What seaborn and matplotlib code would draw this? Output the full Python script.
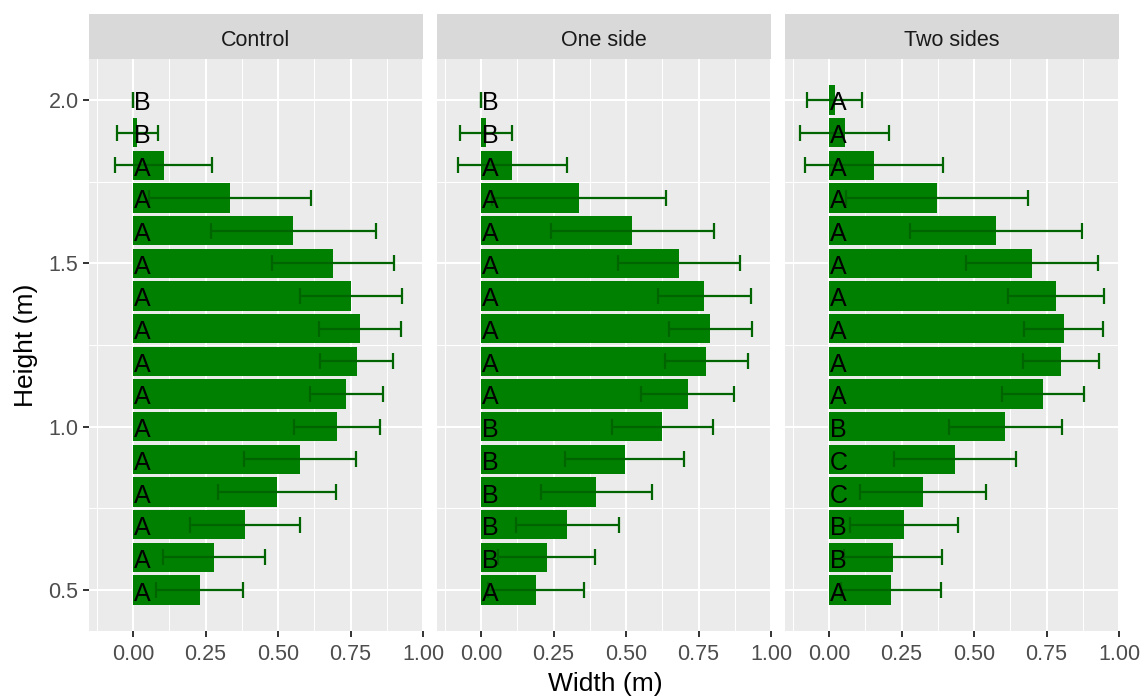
import numpy as np
import pandas as pd
import matplotlib
matplotlib.use("Agg")
import matplotlib.pyplot as plt
from matplotlib.ticker import MultipleLocator, FixedLocator
import seaborn as sns

# ---------------- data ----------------
heights = [0.5, 0.6, 0.7, 0.8, 0.9, 1.0, 1.1, 1.2, 1.3, 1.4, 1.5, 1.6, 1.7, 1.8, 1.9, 2.0]
treatments = ["Control", "One side", "Two sides"]

control_width = [0.230, 0.280, 0.386, 0.497, 0.576, 0.703, 0.735, 0.772,
                 0.783, 0.752, 0.690, 0.553, 0.335, 0.105, 0.015, 0.0]
control_err = [0.150, 0.176, 0.190, 0.203, 0.193, 0.147, 0.126, 0.126,
               0.140, 0.176, 0.210, 0.285, 0.280, 0.168, 0.070, 0.0]
control_letters = ["A", "A", "A", "A", "A", "A", "A", "A",
                   "A", "A", "A", "A", "A", "A", "B", "B"]

oneside_width = [0.190, 0.226, 0.298, 0.398, 0.495, 0.625, 0.713, 0.777,
                 0.790, 0.770, 0.683, 0.522, 0.337, 0.108, 0.017, 0.0]
oneside_err = [0.165, 0.168, 0.177, 0.192, 0.205, 0.175, 0.160, 0.144,
               0.143, 0.160, 0.210, 0.280, 0.300, 0.187, 0.090, 0.0]
oneside_letters = ["A", "B", "B", "B", "B", "B", "A", "A",
                   "A", "A", "A", "A", "A", "A", "B", "B"]

twosides_width = [0.214, 0.221, 0.259, 0.324, 0.434, 0.607, 0.738, 0.800,
                  0.810, 0.783, 0.700, 0.576, 0.372, 0.155, 0.054, 0.019]
twosides_err = [0.172, 0.170, 0.187, 0.217, 0.210, 0.195, 0.141, 0.130,
                0.136, 0.165, 0.228, 0.298, 0.314, 0.238, 0.153, 0.094]
twosides_letters = ["A", "B", "B", "C", "C", "B", "A", "A",
                    "A", "A", "A", "A", "A", "A", "A", "A"]

x_ticks = [0.0, 0.25, 0.5, 0.75, 1.0]
x_ticklabels = ["0.00", "0.25", "0.50", "0.75", "1.00"]
y_ticks = [0.5, 1.0, 1.5, 2.0]
y_ticklabels = ["0.5", "1.0", "1.5", "2.0"]

widths = [control_width, oneside_width, twosides_width]
errs = [control_err, oneside_err, twosides_err]
letters = [control_letters, oneside_letters, twosides_letters]

frames = []
for t, w, e, l in zip(treatments, widths, errs, letters):
    frames.append(pd.DataFrame({"treatment": t, "height": heights,
                                "width": w, "err": e, "letter": l}))
df = pd.concat(frames, ignore_index=True)

# ---------------- style ----------------
sns.set_theme(style="darkgrid")
plt.rcParams["font.family"] = ["Liberation Sans", "DejaVu Sans"]

W, H = 1141, 698
fig = plt.figure(figsize=(W / 100, H / 100), dpi=100)
fig.patch.set_facecolor("white")

panel_lefts = [89, 437, 785]
panel_w = 334
plot_top, plot_bot = 59, 631
strip_top = 14

bar_color = "#008000"
err_color = "#006400"

for i, t in enumerate(treatments):
    sub = df[df["treatment"] == t]
    left = panel_lefts[i]
    ax = fig.add_axes([left / W, 1 - plot_bot / H, panel_w / W, (plot_bot - plot_top) / H])
    ax.set_facecolor("#EBEBEB")
    sns.barplot(data=sub, x="width", y="height", orient="h", native_scale=True,
                color=bar_color, saturation=1, width=0.9, errorbar=None,
                linewidth=0, ax=ax, zorder=2)
    ax.errorbar(sub["width"], sub["height"], xerr=sub["err"], fmt="none",
                ecolor=err_color, elinewidth=1.6, capsize=5.5, capthick=1.6,
                zorder=3)
    for h, lab in zip(sub["height"], sub["letter"]):
        ax.text(0.004, h - 0.032, lab, ha="left", va="baseline",
                fontsize=18, color="black", zorder=4)

    ax.set_xlim(-0.152, 1.0)
    ax.set_ylim(0.375, 2.125)
    ax.xaxis.set_major_locator(FixedLocator(x_ticks))
    ax.set_xticklabels(x_ticklabels)
    ax.xaxis.set_minor_locator(MultipleLocator(0.125))
    ax.yaxis.set_major_locator(FixedLocator(y_ticks))
    ax.yaxis.set_minor_locator(FixedLocator([0.75, 1.25, 1.75]))
    ax.grid(which="major", color="white", linewidth=1.5, zorder=0)
    ax.grid(which="minor", color="white", linewidth=0.75, zorder=0)
    ax.set_axisbelow(True)
    for s in ax.spines.values():
        s.set_visible(False)
    ax.tick_params(axis="both", which="major", length=4.5, width=1.4,
                   color="#333333", labelcolor="#4D4D4D", labelsize=15.5,
                   pad=3, bottom=True, left=True)
    ax.tick_params(axis="x", which="major", pad=5)
    ax.tick_params(axis="both", which="minor", length=0)
    if i == 0:
        ax.set_yticklabels(y_ticklabels)
    else:
        ax.tick_params(axis="y", which="major", left=False, labelleft=False)
    ax.set_xlabel("")
    ax.set_ylabel("")

    # strip
    sax = fig.add_axes([left / W, 1 - plot_top / H, panel_w / W, (plot_top - strip_top) / H])
    sax.set_facecolor("#D9D9D9")
    sax.set_xticks([])
    sax.set_yticks([])
    sax.grid(False)
    for s in sax.spines.values():
        s.set_visible(False)
    sax.text(0.5, 0.42, t, ha="center", va="center", fontsize=15.5,
             color="#1A1A1A", transform=sax.transAxes)

fig.text(605 / W, 1 - 684 / H, "Width (m)", ha="center", va="center",
         fontsize=19, color="black")
fig.text(26 / W, 1 - 345 / H, "Height (m)", ha="center", va="center",
         rotation=90, fontsize=19, color="black")

fig.savefig("out.png", dpi=100, facecolor="white")
